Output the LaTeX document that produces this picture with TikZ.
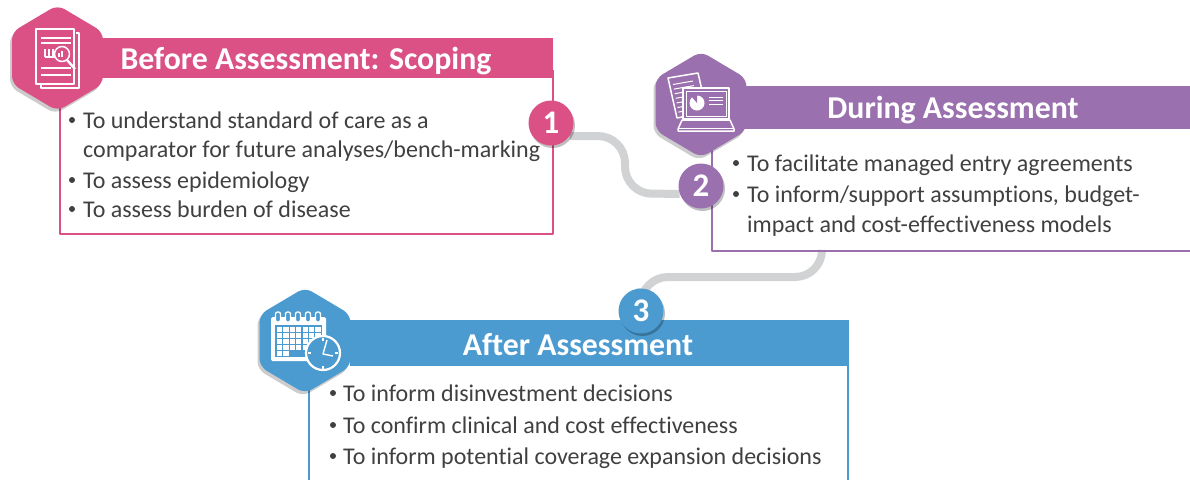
\documentclass[tikz,border=0pt]{standalone}
\usepackage{fontspec}
\setmainfont{Carlito}[RawFeature=-liga]
\usetikzlibrary{shadows,backgrounds}
\definecolor{rosepink}{HTML}{DB5186}
\definecolor{plumviolet}{HTML}{9B70AF}
\definecolor{skyblue}{HTML}{4B9BD0}
\definecolor{linkgrey}{HTML}{D0D2D3}
\definecolor{bodygrey}{HTML}{404040}
\tikzset{
	hexshadow/.style={drop shadow={shadow xshift=-2pt,shadow yshift=-3pt,opacity=.2,fill=black}},
	numshadow/.style={drop shadow={shadow xshift=1.5pt,shadow yshift=-2.5pt,opacity=.25,fill=black}},
	headbar/.style={inner sep=0,minimum height=#1,text=white,font=\fontsize{31.8}{31.8}\selectfont\bfseries},
	badge/.style={circle,inner sep=0,minimum size=45pt,text=white,numshadow,font=\fontsize{33}{33}\selectfont\bfseries},
	bodyline/.style={anchor=base west,inner sep=0,text=bodygrey,font=\fontsize{24}{24}\selectfont},
	linkline/.style={linkgrey,line width=8pt,rounded corners=27pt},
	iconline/.style={white,line width=1.5pt}
}
\begin{document}
\begin{tikzpicture}[x=1pt,y=-1pt,line join=round]
	\useasboundingbox (0,0) rectangle (1190,480);
	\path
	(822,251)coordinate(duringfoot)
	(625,193.7)coordinate(bendone)
	(641,277)coordinate(bendtwo)
	;
	% frames
	\draw[rosepink,line width=2.5pt] (60,100)--(60,234)--(553,234)--(553,70);
	\draw[plumviolet,line width=2.5pt] (712,150)--(712,251)--(1190,251);
	\draw[skyblue,line width=2.5pt] (309,385)--(309,480) (848,360)--(848,480);
	% header bars
	\node[headbar=40pt,fill=rosepink,minimum width=451pt] (headone) at (327.5,58) {};
	\node[headbar=43pt,fill=plumviolet,minimum width=445pt] (headtwo) at (967.5,107.5) {};
	\node[headbar=46pt,fill=skyblue,minimum width=499pt] (headthree) at (599.5,343) {};
	\node[headbar=40pt] (titleone) at (306,61) {Before Assessment: Scoping};
	\node[headbar=40pt] (titletwo) at (953,110) {During Assessment};
	\node[headbar=40pt] (titlethree) at (578,345) {After Assessment};
	% hexagons
	\foreach \x/\y/\c in {57.5/58/rosepink,701/104.5/plumviolet,305/340.5/skyblue}
	\fill[\c,rounded corners=8pt,hexshadow] (\x,\y-53)--(\x+45.5,\y-26)--(\x+45.5,\y+26)--(\x,\y+53)--(\x-45.5,\y+26)--(\x-45.5,\y-26)--cycle;
	% numbers
	\path (551,123) node[badge,fill=rosepink] (numone) {1}
	(701,186) node[badge,fill=plumviolet] (numtwo) {2}
	(641,311) node[badge,fill=skyblue] (numthree) {3};
	% links
	\begin{scope}[on background layer]
		\draw[linkline] (numone.-35) -| (bendone) -- (numtwo.-160);
		\draw[linkline] (duringfoot) |- (bendtwo) -- (numthree);
	\end{scope}
	% bullet lines
	\foreach \px/\py/\t in {
		83/128/To understand standard of care as a,
		83/157/{comparator for future analyses/bench-marking},
		83/188/To assess epidemiology,
		83/217/To assess burden of disease,
		747/171/To facilitate managed entry agreements,
		747/202/{To inform/support assumptions, budget-},
		747/232/impact and cost-effectiveness models,
		343/401/To inform disinvestment decisions,
		343/433/To confirm clinical and cost effectiveness,
		343/464/To inform potential coverage expansion decisions}
	\node[bodyline] at (\px,\py) {\t};
	\foreach \px/\py in {72/120,72/180,72/209,736/163,736/194,333/393,333/425,333/456}
	\fill[bodygrey] (\px,\py) circle (3);
	% document icon
	\draw[iconline,line width=1.2pt] (76,33)--(79,33)--(79,88)--(41,88)--(41,84);
	\draw[iconline,fill=rosepink] (36,29) rectangle (74,84);
	\foreach \y in {38,43,68,75}\draw[iconline] (41,\y)--(71,\y);
	\draw[iconline] (45,57)--(45,49) (49,57)--(49,49) (53,57)--(53,49) (45,57)--(60,57);
	\draw[iconline,fill=rosepink] (62,54) circle (7.5);
	\draw[white,line width=1.6pt] (59,57)--(59,53) (62,57)--(62,51);
	\draw[white,line width=2.4pt] (67,60)--(75,69);
	% laptop icon
	\draw[iconline,fill=plumviolet] (668,78)--(698,73)--(707,112)--(677,118)--cycle;
	\foreach \s in {0,1,2,3,4,5,6}\draw[white,line width=1pt] (673+\s*.9,84.5+\s*4.6)--(693+\s*.9,81+\s*4.6);
	\draw[iconline,fill=plumviolet] (683,88) rectangle (729,119);
	\draw[white,line width=1pt] (686,91) rectangle (726,116);
	\fill[white] (697,103) circle (7.5);
	\fill[plumviolet] (697,103)--(691,96)--(697,94)--cycle;
	\foreach \y in {97,100.5,104}\draw[white,line width=1pt] (709,\y)--(723,\y);
	\draw[iconline,fill=plumviolet] (682,120)--(730,120)--(734,129)--(734,131)--(678,131)--(678,129)--cycle;
	\draw[white,line width=1pt] (678,128)--(734,128);
	% calendar icon
	\fill[white,rounded corners=1.5pt] (271,317) rectangle (326,361);
	\fill[skyblue] (275,325) rectangle (322,357);
	\foreach \c in {0,1,2,3,4,5,6}\foreach \r in {0,1,2,3}\fill[white] (277+\c*6.4,326.5+\r*6.2) rectangle ++(5.2,5);
	\foreach \c in {0,1}\fill[white] (277+\c*6.4,351.3) rectangle ++(5.2,5);
	\foreach \c in {0,1,2,3,4}\draw[white,fill=skyblue,line width=1.3pt,rounded corners=2pt] (275.5+\c*10,312)rectangle ++(5,10);
	\draw[white,fill=skyblue,line width=2.2pt] (323,353) circle (17);
	\draw[white,line width=1.4pt] (327,340)--(323,354)--(333,356);
	\foreach \p in {0,1}\fill[white] (322.3,338+\p*28) rectangle ++(1.4,3);
	\foreach \p in {0,1}\fill[white] (308+\p*27,352.4) rectangle ++(3,1.2);
\end{tikzpicture}
\end{document}
